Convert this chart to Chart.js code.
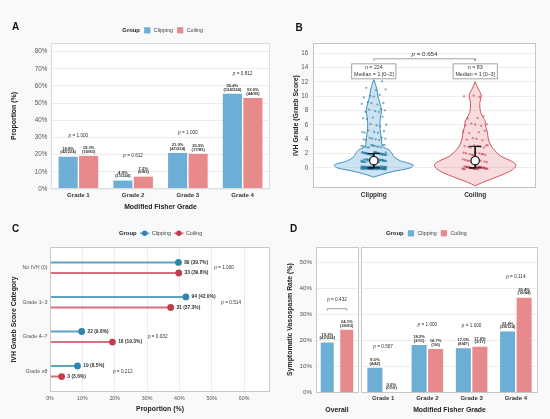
<!DOCTYPE html>
<html><head><meta charset="utf-8">
<script src="https://cdn.jsdelivr.net/npm/chart.js@4.4.1/dist/chart.umd.min.js"></script>
<style>
html,body{margin:0;padding:0;background:#f7f9fb;}
#wrap{position:relative;width:550px;height:419px;overflow:hidden;background:#f7f9fb;}
canvas{position:absolute;}
</style></head><body>
<div id="wrap">
<canvas id="cA" width="275" height="216" style="left:0;top:0"></canvas>
<canvas id="cB" width="275" height="216" style="left:275px;top:0"></canvas>
<canvas id="cC" width="275" height="209" style="left:0;top:210px"></canvas>
<canvas id="cD1" width="86" height="209" style="left:275px;top:210px"></canvas>
<canvas id="cD2" width="190" height="209" style="left:360px;top:210px"></canvas>
</div>
<script>
// ---------- DATA ----------
const groups = ['Clipping', 'Coiling'];
const clipTotal = 224, coilTotal = 83;

// Panel A: Modified Fisher grade distribution
const fisherGrades = ['Grade 1', 'Grade 2', 'Grade 3', 'Grade 4'];
const fisherClipPct = [18.8, 4.9, 21.0, 55.4];
const fisherCoilPct = [19.3, 7.2, 20.5, 53.0];
const fisherClipN = [42, 11, 47, 124];
const fisherCoilN = [16, 6, 17, 44];
const fisherP = ['1.000', '0.612', '1.000', '0.812'];

// Panel B: IVH Graeb score (counts of patients per score 0..12)
const graebScores = [0, 1, 2, 3, 4, 5, 6, 7, 8, 9, 10, 11, 12];
const clipScoreCounts = [89, 42, 38, 14, 8, 6, 4, 4, 6, 5, 4, 3, 1];
const coilScoreCounts = [33, 12, 10, 9, 4, 4, 5, 3, 0, 0, 3, 0, 0];
const graebMedian = [1, 1];
const graebQ1 = [0, 0];
const graebQ3 = [2, 3];
const graebN = [224, 83];
const graebP = '0.654';
// violin outlines (score level, half width)
const clipViolinY  = [-1.3, -1.0, -0.5, 0, 0.4, 1, 1.5, 2, 2.5, 3, 4, 5, 6, 7, 8, 9, 10, 11, 12.3];
const clipViolinHW = [0, 0.06, 0.19, 0.36, 0.39, 0.26, 0.20, 0.18, 0.15, 0.085, 0.075, 0.065, 0.06, 0.065, 0.075, 0.06, 0.04, 0.03, 0];
const coilViolinY  = [-2.5, -2, -1.5, -1, -0.5, 0, 0.5, 1, 1.5, 2, 3, 4, 5, 6, 6.5, 7, 7.5, 8, 9, 10, 10.5, 11, 12];
const coilViolinHW = [0, 0.075, 0.17, 0.26, 0.34, 0.39, 0.40, 0.35, 0.27, 0.22, 0.16, 0.13, 0.12, 0.10, 0.10, 0.08, 0.06, 0.05, 0.045, 0.06, 0.05, 0.03, 0];

// Panel C: IVH Graeb score category
const ivhCats = ['No IVH (0)', 'Grade 1–3', 'Grade 4–7', 'Grade ≥8'];
const ivhClipN = [89, 94, 22, 19];
const ivhClipPct = [39.7, 42.0, 9.8, 8.5];
const ivhCoilN = [33, 31, 16, 3];
const ivhCoilPct = [39.8, 37.3, 19.3, 3.6];
const ivhP = ['1.000', '0.514', '0.032', '0.212'];

// Panel D: symptomatic vasospasm
const vasoOverallPct = [19.2, 24.1];
const vasoOverallFrac = ['43/224', '20/83'];
const vasoOverallP = '0.432';
const vasoClipPct = [9.5, 18.2, 17.0, 23.4];
const vasoClipFrac = ['4/42', '2/11', '8/47', '29/124'];
const vasoCoilPct = [0.0, 16.7, 17.6, 36.4];
const vasoCoilFrac = ['0/16', '1/6', '3/17', '16/44'];
const vasoP = ['0.567', '1.000', '1.000', '0.114'];

// ---------- STYLE ----------
const FONT = "'Liberation Sans', Arial, Helvetica, sans-serif";
Chart.defaults.font.family = FONT;
Chart.defaults.animation = false;
const clipBar = '#6caed6', coilBar = '#e8898b';
const clipLine = '#5ea2c3', coilLine = '#d3707b';
const clipDot = '#2f86ad', coilDot = '#c33c4b';
const gridCol = '#ededed', tickCol = '#555555', darkText = '#333333', titleCol = '#222222';

// ---------- HELPERS ----------
function fillArea(c, col) { const a = c.chartArea, x = c.ctx; x.save(); x.fillStyle = col; x.fillRect(a.left, a.top, a.right - a.left, a.bottom - a.top); x.restore(); }
function strokeArea(c, col) { const a = c.chartArea, x = c.ctx; x.save(); x.strokeStyle = col; x.lineWidth = 1; x.strokeRect(Math.round(a.left) + 0.5, Math.round(a.top) + 0.5, Math.round(a.right - a.left) - 1, Math.round(a.bottom - a.top) - 1); x.restore(); }
function panelLabel(ctx, t, x, y) { ctx.save(); ctx.font = `bold 10px ${FONT}`; ctx.fillStyle = '#111'; ctx.textBaseline = 'middle'; ctx.textAlign = 'left'; ctx.fillText(t, x, y); ctx.restore(); }
function drawP(ctx, x, y, p, size) {
  ctx.save(); ctx.textBaseline = 'middle'; ctx.fillStyle = '#333'; ctx.textAlign = 'left';
  ctx.font = `italic ${size}px ${FONT}`; const w1 = ctx.measureText('p').width;
  ctx.font = `${size}px ${FONT}`; const rest = ' = ' + p; const w2 = ctx.measureText(rest).width;
  const sx = x - (w1 + w2) / 2;
  ctx.font = `italic ${size}px ${FONT}`; ctx.fillText('p', sx, y);
  ctx.font = `${size}px ${FONT}`; ctx.fillText(rest, sx + w1, y);
  ctx.restore();
}
function drawLegend(ctx, x, y, kind) {
  ctx.save(); ctx.textBaseline = 'middle'; ctx.textAlign = 'left';
  ctx.font = `bold 5.9px ${FONT}`; ctx.fillStyle = titleCol; ctx.fillText('Group', x, y);
  x += ctx.measureText('Group').width + 4.2;
  groups.forEach((g, i) => {
    if (kind === 'box') {
      ctx.fillStyle = [clipBar, coilBar][i]; ctx.fillRect(x, y - 3.1, 6.2, 6.2); x += 6.2 + 3.4;
    } else {
      ctx.strokeStyle = [clipLine, coilLine][i]; ctx.lineWidth = 1.6;
      ctx.beginPath(); ctx.moveTo(x - 1, y); ctx.lineTo(x + 8.5, y); ctx.stroke();
      ctx.fillStyle = [clipDot, coilDot][i]; ctx.beginPath(); ctx.arc(x + 3.8, y, 2.7, 0, Math.PI * 2); ctx.fill();
      x += 8.5 + 2.4;
    }
    ctx.font = `5.35px ${FONT}`; ctx.fillStyle = '#444'; ctx.fillText(g, x, y);
    x += ctx.measureText(g).width + 4;
  });
  ctx.restore();
}
function barLabels(c, pcts, fracs) {
  const ctx = c.ctx; ctx.save(); ctx.textAlign = 'center'; ctx.textBaseline = 'middle'; ctx.fillStyle = '#333';
  ctx.font = `bold 4.2px ${FONT}`;
  pcts.forEach((arr, d) => {
    const meta = c.getDatasetMeta(d);
    arr.forEach((v, i) => {
      const el = meta.data[i];
      ctx.fillText('(' + fracs[d][i] + ')', el.x, el.y - 4.4);
      ctx.fillText(v.toFixed(1) + '%', el.x, el.y - 8.1);
    });
  });
  ctx.restore();
}
const titleFont = { size: 6.9, weight: 'bold' };

// ---------- PANEL A ----------
new Chart(document.getElementById('cA'), {
  type: 'bar',
  data: { labels: fisherGrades, datasets: [
    { label: groups[0], data: fisherClipPct, backgroundColor: clipBar, categoryPercentage: 0.75, barPercentage: 0.93 },
    { label: groups[1], data: fisherCoilPct, backgroundColor: coilBar, categoryPercentage: 0.75, barPercentage: 0.93 }
  ]},
  options: {
    responsive: false, animation: false,
    layout: { padding: { top: 43, right: 5, left: 0, bottom: 0 } },
    plugins: { legend: { display: false }, tooltip: { enabled: false } },
    scales: {
      x: { grid: { display: false, drawTicks: false }, border: { display: false },
           ticks: { font: { size: 6.1, weight: 'bold' }, color: darkText, padding: 2.4 },
           title: { display: true, text: 'Modified Fisher Grade', font: titleFont, color: titleCol, padding: { top: 0, bottom: 4.9 } },
           afterFit: s => { s.height = 27; } },
      y: { min: 0, max: 85, ticks: { stepSize: 10, callback: v => v + '%', font: { size: 6.3 }, color: tickCol, padding: 3.7 },
           grid: { color: gridCol, drawTicks: false }, border: { display: false },
           afterBuildTicks: s => { s.ticks = s.ticks.filter(t => t.value % 10 === 0 && t.value <= 80); },
           title: { display: true, text: 'Proportion (%)', font: titleFont, color: titleCol, padding: { top: 9.9, bottom: 0 } },
           afterFit: s => { s.width = 51; } }
    }
  },
  plugins: [{
    id: 'annA',
    beforeDraw(c) { fillArea(c, '#ffffff'); },
    afterDraw(c) {
      strokeArea(c, '#dedede');
      barLabels(c, [fisherClipPct, fisherCoilPct], [fisherClipN.map(n => n + '/' + clipTotal), fisherCoilN.map(n => n + '/' + coilTotal)]);
      fisherP.forEach((p, i) => {
        const top = Math.max(fisherClipPct[i], fisherCoilPct[i]) + 12;
        drawP(c.ctx, c.scales.x.getPixelForValue(i), c.scales.y.getPixelForValue(top), p, 4.7);
      });
      drawLegend(c.ctx, 122.3, 30.3, 'box');
      panelLabel(c.ctx, 'A', 12, 27.5);
    }
  }]
});

// ---------- PANEL B ----------
function violinPoints(center, ys, hws) {
  const right = ys.map((y, i) => ({ x: center + hws[i], y }));
  const left = ys.map((y, i) => ({ x: center - hws[i], y })).reverse();
  return right.concat(left);
}
function jitterPoints(center, counts) {
  const pts = []; let k = 0;
  counts.forEach((n, idx) => {
    for (let j = 0; j < n; j++) {
      const u = ((k * 0.6180339887) % 1) - 0.5;
      const v = ((k * 0.7548776662 + 0.3) % 1) - 0.5;
      pts.push({ x: center + u * 0.25, y: graebScores[idx] + v * 0.42 });
      k++;
    }
  });
  return pts;
}
function errorBarPath(center, q1, q3) {
  const w = 0.06;
  return [{ x: center - w, y: q3 }, { x: center + w, y: q3 }, { x: center, y: q3 }, { x: center, y: q1 }, { x: center - w, y: q1 }, { x: center + w, y: q1 }];
}
const bCenters = [1, 2];
const bracketY = 15.2;
new Chart(document.getElementById('cB'), {
  type: 'scatter',
  data: { datasets: [
    { data: violinPoints(bCenters[0], clipViolinY, clipViolinHW), showLine: true, fill: 'shape', tension: 0.3,
      backgroundColor: 'rgba(108,174,214,0.35)', borderColor: '#3f90bf', borderWidth: 1, pointRadius: 0, order: 5 },
    { data: violinPoints(bCenters[1], coilViolinY, coilViolinHW), showLine: true, fill: 'shape', tension: 0.3,
      backgroundColor: 'rgba(232,137,139,0.30)', borderColor: '#d4545f', borderWidth: 1, pointRadius: 0, order: 5 },
    { data: jitterPoints(bCenters[0], clipScoreCounts), pointRadius: 1.15, backgroundColor: 'rgba(40,122,166,0.6)', borderWidth: 0, order: 4 },
    { data: jitterPoints(bCenters[1], coilScoreCounts), pointRadius: 1.15, backgroundColor: 'rgba(196,55,72,0.6)', borderWidth: 0, order: 4 },
    { data: errorBarPath(bCenters[0], graebQ1[0], graebQ3[0]), showLine: true, tension: 0, borderColor: '#111', borderWidth: 1, pointRadius: 0, order: 2 },
    { data: errorBarPath(bCenters[1], graebQ1[1], graebQ3[1]), showLine: true, tension: 0, borderColor: '#111', borderWidth: 1, pointRadius: 0, order: 2 },
    { data: bCenters.map((c, i) => ({ x: c, y: graebMedian[i] })), pointRadius: 4.2, backgroundColor: '#ffffff', borderColor: '#111', borderWidth: 1.2, order: 1 },
    { data: [{ x: bCenters[0], y: bracketY - 0.3 }, { x: bCenters[0], y: bracketY }, { x: bCenters[1], y: bracketY }, { x: bCenters[1], y: bracketY - 0.3 }],
      showLine: true, tension: 0, borderColor: '#8a8a8a', borderWidth: 0.8, pointRadius: 0, order: 1 }
  ]},
  options: {
    responsive: false, animation: false,
    layout: { padding: { top: 43, right: 14, left: 0, bottom: 0 } },
    plugins: { legend: { display: false }, tooltip: { enabled: false } },
    scales: {
      x: { type: 'linear', min: 0.4, max: 2.6, grid: { display: false, drawTicks: false }, border: { display: false },
           afterBuildTicks: s => { s.ticks = bCenters.map(v => ({ value: v })); },
           ticks: { callback: v => groups[Math.round(v) - 1], font: { size: 6.5, weight: 'bold' }, color: darkText, padding: 3.1 },
           afterFit: s => { s.height = 28; } },
      y: { min: -2.8, max: 17.4, ticks: { stepSize: 2, font: { size: 6.3 }, color: tickCol, padding: 4.7 },
           afterBuildTicks: s => { s.ticks = s.ticks.filter(t => t.value >= 0 && t.value <= 16 && t.value % 2 === 0); },
           grid: { color: gridCol, drawTicks: false }, border: { display: false },
           title: { display: true, text: 'IVH Grade (Graeb Score)', font: titleFont, color: titleCol, padding: { top: 16.5, bottom: 0 } },
           afterFit: s => { s.width = 38; } }
    }
  },
  plugins: [{
    id: 'annB',
    beforeDraw(c) { fillArea(c, '#ffffff'); },
    afterDraw(c) {
      strokeArea(c, '#c4c4c4');
      const ctx = c.ctx, xs = c.scales.x, ys = c.scales.y;
      drawP(ctx, (xs.getPixelForValue(bCenters[0]) + xs.getPixelForValue(bCenters[1])) / 2, ys.getPixelForValue(15.85), graebP, 6.2);
      bCenters.forEach((cx, i) => {
        const l1 = 'n = ' + graebN[i];
        const l2 = 'Median = ' + graebMedian[i] + ' [' + graebQ1[i] + '–' + graebQ3[i] + ']';
        ctx.save(); ctx.font = `5.3px ${FONT}`;
        const w = Math.max(ctx.measureText(l1).width, ctx.measureText(l2).width) + 4.6;
        const px = xs.getPixelForValue(cx), py = ys.getPixelForValue(13.45);
        const h = 15;
        ctx.fillStyle = 'rgba(255,255,255,0.92)'; ctx.strokeStyle = '#8c8c8c'; ctx.lineWidth = 0.8;
        ctx.fillRect(px - w / 2, py - h / 2, w, h); ctx.strokeRect(px - w / 2, py - h / 2, w, h);
        ctx.fillStyle = '#333'; ctx.textAlign = 'center'; ctx.textBaseline = 'middle';
        ctx.fillText(l1, px, py - 3.4); ctx.fillText(l2, px, py + 3.6);
        ctx.restore();
      });
      panelLabel(ctx, 'B', 20.5, 28);
    }
  }]
});

// ---------- PANEL C ----------
const lolliOff = 0.153;
function lollipopSegments(pcts, sign) {
  const pts = [];
  pcts.forEach((v, i) => { const y = i + 1 + sign * lolliOff; pts.push({ x: 0, y }, { x: v, y }, { x: null, y: null }); });
  return pts;
}
function lollipopDots(pcts, sign) { return pcts.map((v, i) => ({ x: v, y: i + 1 + sign * lolliOff })); }
new Chart(document.getElementById('cC'), {
  type: 'scatter',
  data: { datasets: [
    { data: lollipopSegments(ivhClipPct, -1), showLine: true, spanGaps: false, borderColor: clipLine, borderWidth: 2.1, pointRadius: 0, order: 3 },
    { data: lollipopSegments(ivhCoilPct, 1), showLine: true, spanGaps: false, borderColor: coilLine, borderWidth: 2.1, pointRadius: 0, order: 3 },
    { data: lollipopDots(ivhClipPct, -1), pointRadius: 3.4, backgroundColor: clipDot, borderWidth: 0, order: 1 },
    { data: lollipopDots(ivhCoilPct, 1), pointRadius: 3.4, backgroundColor: coilDot, borderWidth: 0, order: 1 }
  ]},
  options: {
    responsive: false, animation: false,
    layout: { padding: { top: 37, right: 5, left: 0, bottom: 0 } },
    plugins: { legend: { display: false }, tooltip: { enabled: false } },
    scales: {
      x: { type: 'linear', min: 0, max: 68, ticks: { stepSize: 10, callback: v => v + '%', font: { size: 5.3 }, color: tickCol, padding: 3 },
           afterBuildTicks: s => { s.ticks = s.ticks.filter(t => t.value % 10 === 0 && t.value <= 60); },
           grid: { color: gridCol, drawTicks: false }, border: { display: false },
           title: { display: true, text: 'Proportion (%)', font: titleFont, color: titleCol, padding: { top: 0, bottom: 5.5 } },
           afterFit: s => { s.height = 27; } },
      y: { type: 'linear', reverse: true, min: 0.4, max: 4.6,
           afterBuildTicks: s => { s.ticks = ivhCats.map((_, i) => ({ value: i + 1 })); },
           ticks: { callback: v => ivhCats[Math.round(v) - 1], font: { size: 5.3 }, color: tickCol, padding: 2.5 },
           grid: { display: false, drawTicks: false }, border: { display: false },
           title: { display: true, text: 'IVH Graeb Score Category', font: titleFont, color: titleCol, padding: { top: 9.9, bottom: 0 } },
           afterFit: s => { s.width = 50; } }
    }
  },
  plugins: [{
    id: 'annC',
    beforeDraw(c) { fillArea(c, '#ffffff'); },
    afterDraw(c) {
      strokeArea(c, '#c8c8c8');
      const ctx = c.ctx, xs = c.scales.x, ys = c.scales.y;
      ctx.save(); ctx.font = `bold 4.9px ${FONT}`; ctx.fillStyle = '#333'; ctx.textAlign = 'left'; ctx.textBaseline = 'middle';
      ivhCats.forEach((_, i) => {
        ctx.fillText(ivhClipN[i] + ' (' + ivhClipPct[i].toFixed(1) + '%)', xs.getPixelForValue(ivhClipPct[i]) + 5.7, ys.getPixelForValue(i + 1 - lolliOff));
        ctx.fillText(ivhCoilN[i] + ' (' + ivhCoilPct[i].toFixed(1) + '%)', xs.getPixelForValue(ivhCoilPct[i]) + 5.7, ys.getPixelForValue(i + 1 + lolliOff));
      });
      ctx.restore();
      ivhP.forEach((p, i) => {
        drawP(ctx, xs.getPixelForValue(Math.max(ivhClipPct[i], ivhCoilPct[i]) + 14), ys.getPixelForValue(i + 1), p, 4.7);
      });
      drawLegend(ctx, 119, 23.3, 'line');
      panelLabel(ctx, 'C', 12, 19);
    }
  }]
});

// ---------- PANEL D ----------
const dY = { min: 0, max: 56 };
new Chart(document.getElementById('cD1'), {
  type: 'bar',
  data: { labels: ['Overall'], datasets: [
    { label: groups[0], data: [vasoOverallPct[0]], backgroundColor: clipBar, categoryPercentage: 0.915, barPercentage: 0.667 },
    { label: groups[1], data: [vasoOverallPct[1]], backgroundColor: coilBar, categoryPercentage: 0.915, barPercentage: 0.667 }
  ]},
  options: {
    responsive: false, animation: false,
    layout: { padding: { top: 36.7, right: 2.7, left: 0, bottom: 0 } },
    plugins: { legend: { display: false }, tooltip: { enabled: false } },
    scales: {
      x: { ticks: { display: false }, grid: { display: false, drawTicks: false }, border: { display: false },
           title: { display: true, text: 'Overall', font: titleFont, color: titleCol, padding: { top: 0, bottom: 4.9 } },
           afterFit: s => { s.height = 26.5; } },
      y: { min: dY.min, max: dY.max, ticks: { stepSize: 10, callback: v => v + '%', font: { size: 6.2 }, color: tickCol, padding: 3.7 },
           afterBuildTicks: s => { s.ticks = s.ticks.filter(t => t.value % 10 === 0 && t.value <= 50); },
           grid: { color: gridCol, drawTicks: false }, border: { display: false },
           title: { display: true, text: 'Symptomatic Vasospasm Rate (%)', font: titleFont, color: titleCol, padding: { top: 10.9, bottom: 0 } },
           afterFit: s => { s.width = 40.7; } }
    }
  },
  plugins: [{
    id: 'annD1',
    beforeDraw(c) { fillArea(c, '#ffffff'); },
    afterDraw(c) {
      strokeArea(c, '#c8c8c8');
      const ctx = c.ctx, ys = c.scales.y;
      barLabels(c, [[vasoOverallPct[0]], [vasoOverallPct[1]]], [[vasoOverallFrac[0]], [vasoOverallFrac[1]]]);
      const x1 = c.getDatasetMeta(0).data[0].x, x2 = c.getDatasetMeta(1).data[0].x;
      const by = ys.getPixelForValue(Math.max(...vasoOverallPct) + 8.1);
      ctx.save(); ctx.strokeStyle = '#8a8a8a'; ctx.lineWidth = 0.8; ctx.beginPath();
      ctx.moveTo(x1, by + 2); ctx.lineTo(x1, by); ctx.lineTo(x2, by); ctx.lineTo(x2, by + 2); ctx.stroke(); ctx.restore();
      drawP(ctx, (x1 + x2) / 2, ys.getPixelForValue(Math.max(...vasoOverallPct) + 11.4), vasoOverallP, 4.7);
      panelLabel(ctx, 'D', 15, 19);
    }
  }]
});
new Chart(document.getElementById('cD2'), {
  type: 'bar',
  data: { labels: fisherGrades, datasets: [
    { label: groups[0], data: vasoClipPct, backgroundColor: clipBar, categoryPercentage: 0.746, barPercentage: 0.91 },
    { label: groups[1], data: vasoCoilPct, backgroundColor: coilBar, categoryPercentage: 0.746, barPercentage: 0.91 }
  ]},
  options: {
    responsive: false, animation: false,
    layout: { padding: { top: 36.7, right: 12, left: 1, bottom: 0 } },
    plugins: { legend: { display: false }, tooltip: { enabled: false } },
    scales: {
      x: { grid: { display: false, drawTicks: false }, border: { display: false },
           ticks: { font: { size: 6, weight: 'bold' }, color: darkText, padding: 2 },
           title: { display: true, text: 'Modified Fisher Grade', font: titleFont, color: titleCol, padding: { top: 0, bottom: 4.9 } },
           afterFit: s => { s.height = 26.5; } },
      y: { min: dY.min, max: dY.max, ticks: { display: false, stepSize: 10 },
           afterBuildTicks: s => { s.ticks = s.ticks.filter(t => t.value % 10 === 0 && t.value <= 50); },
           grid: { color: gridCol, drawTicks: false }, border: { display: false },
           afterFit: s => { s.width = 0; } }
    }
  },
  plugins: [{
    id: 'annD2',
    beforeDraw(c) { fillArea(c, '#ffffff'); },
    afterDraw(c) {
      strokeArea(c, '#c8c8c8');
      barLabels(c, [vasoClipPct, vasoCoilPct], [vasoClipFrac, vasoCoilFrac]);
      vasoP.forEach((p, i) => {
        drawP(c.ctx, c.scales.x.getPixelForValue(i), c.scales.y.getPixelForValue(Math.max(vasoClipPct[i], vasoCoilPct[i]) + 8), p, 4.7);
      });
      drawLegend(c.ctx, 26, 23.3, 'box');
    }
  }]
});
</script>
</body></html>
